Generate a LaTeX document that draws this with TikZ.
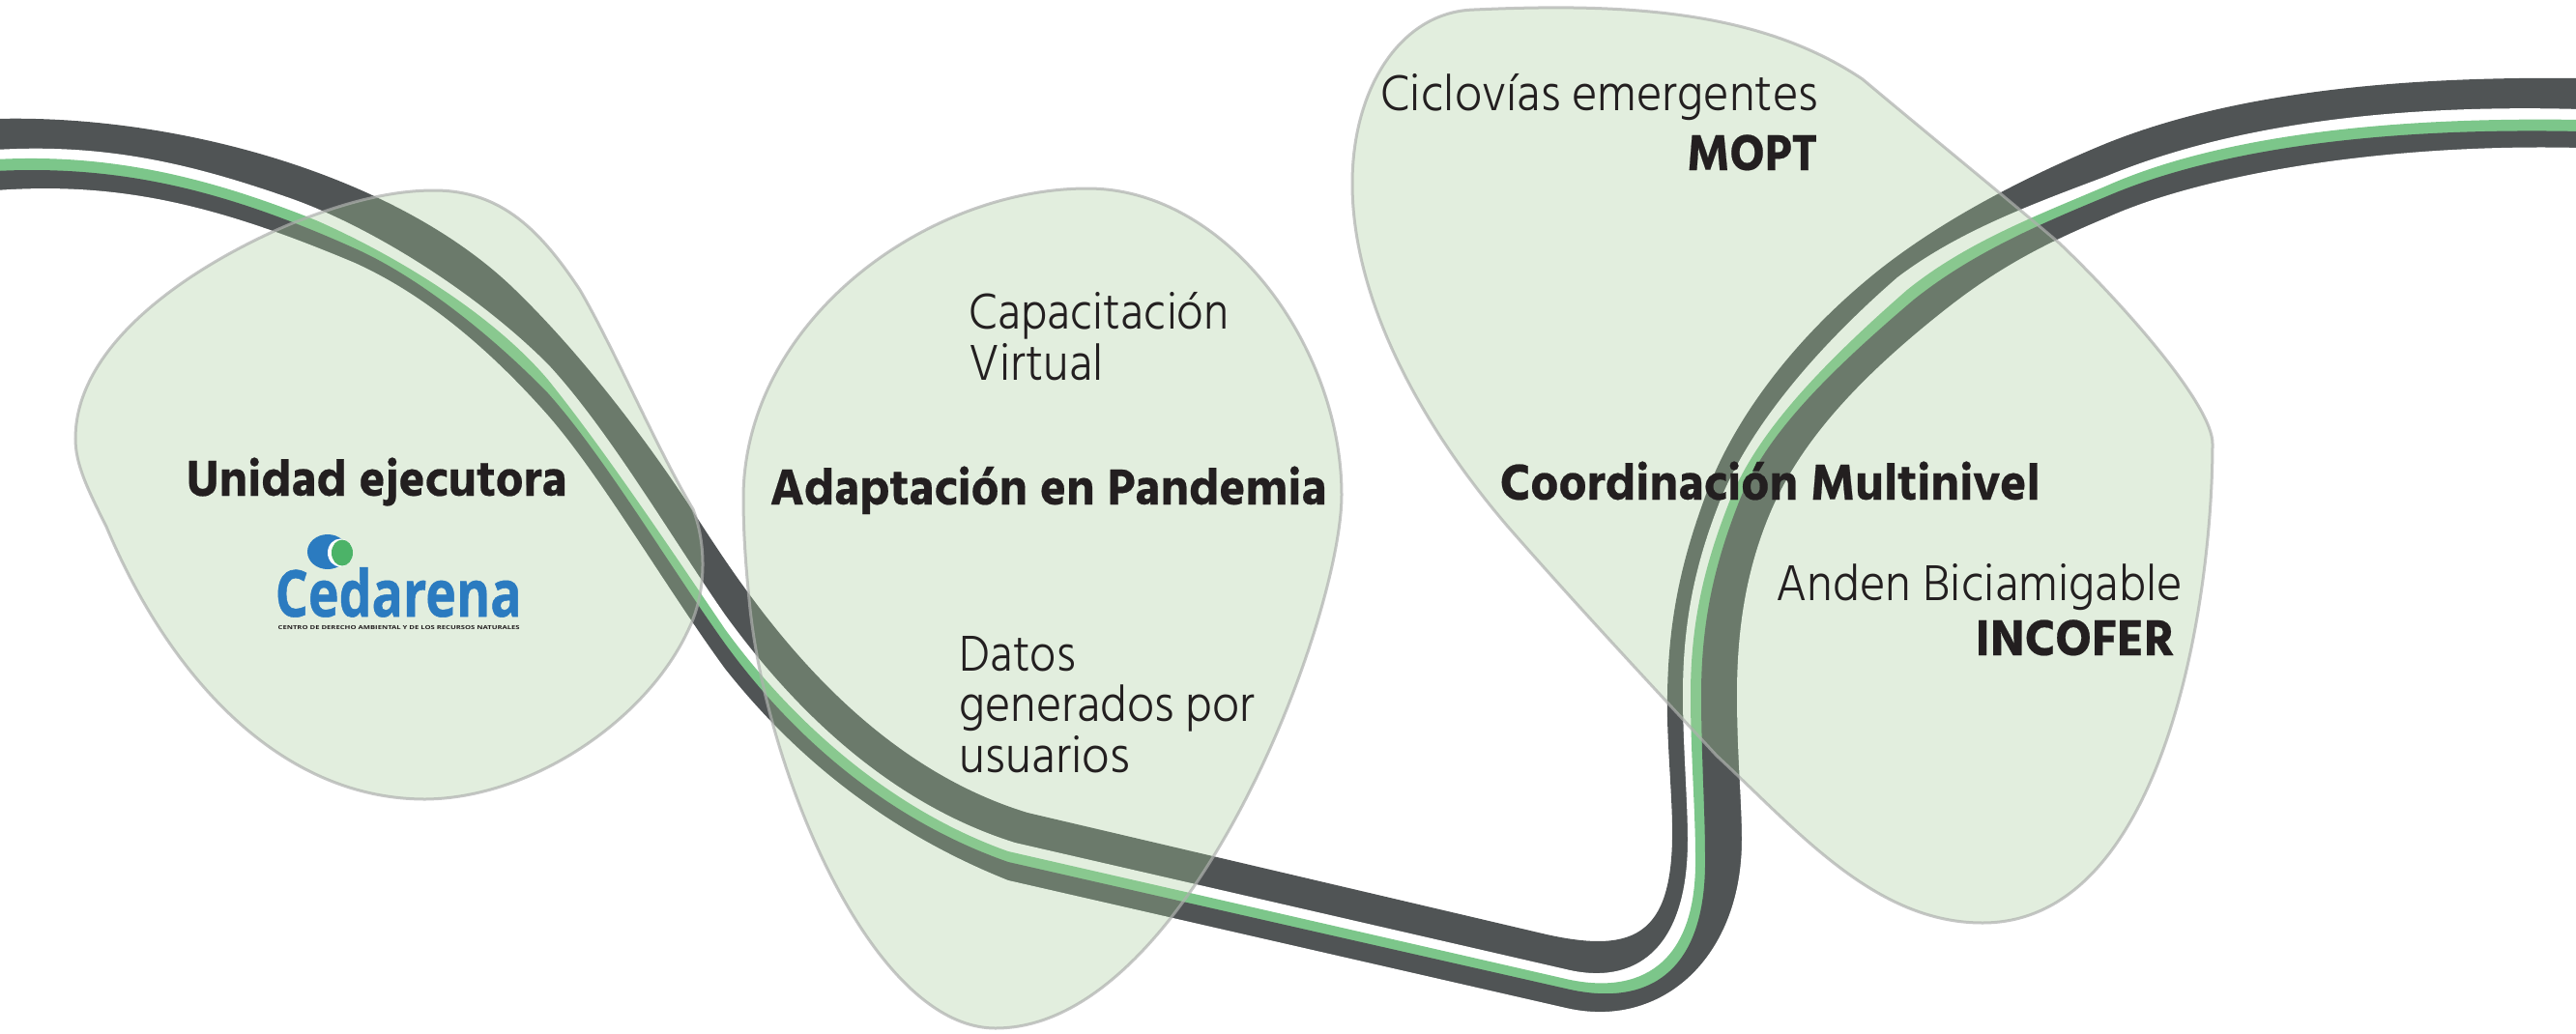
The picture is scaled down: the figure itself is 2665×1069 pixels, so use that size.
\documentclass[tikz,border=0pt]{standalone}
\usepackage{fontspec}
\setmainfont{Hind Madurai Light}
\newfontfamily\boldf[FakeBold=.4]{Hind Madurai Bold}
\newfontfamily\subf{Open Sans Bold}
\newfontfamily\logof[FakeBold=.8]{Open Sans Bold}
\definecolor{rib}{HTML}{505455}
\definecolor{ribg}{HTML}{7CC68A}
\definecolor{blobf}{RGB}{165,205,155}
\definecolor{blobl}{HTML}{AEB0AE}
\definecolor{ink}{HTML}{231F20}
\definecolor{cedblue}{HTML}{2B7BC0}
\definecolor{cedgreen}{HTML}{4CB368}
\newcommand{\fitw}[2]{\resizebox{#1\dimexpr0.01cm\relax}{\height}{#2}}
\tikzset{
 blob/.style={fill=blobf,fill opacity=.32,draw=blobl,draw opacity=.7,line width=.03cm},
 thin text/.style={inner sep=0pt,text=ink,font=\fontsize{15.2}{16}\selectfont},
 bold text/.style={inner sep=0pt,text=ink,font=\boldf\fontsize{15.2}{16}\selectfont},
 to floor/.style={insert path={-- (2670,1100) -- (-5,1100) -- cycle}},
}
\begin{document}
\begin{tikzpicture}[x=.01cm,y=-.01cm]
\useasboundingbox (0,0) rectangle (2665,1069);
\clip (0,0) rectangle (2665,1069);
\fill[white] (0,0) rectangle (2665,1069);
% ribbon: each fill covers everything below its edge
\fill[rib] (-5,123) .. controls (180,118) and (410,180) .. (533,300) .. controls (600,365) and (665,450) .. (713,523) .. controls (770,612) and (880,785) .. (1063,841) -- (1600,967) .. controls (1695,988) and (1732,965) .. (1730,852) .. controls (1729,810) and (1724,760) .. (1725,719) .. controls (1726,640) and (1740,580) .. (1763,517) .. controls (1788,445) and (1848,355) .. (1947,277) .. controls (2010,228) and (2090,185) .. (2180,148) .. controls (2280,108) and (2430,78) .. (2670,81) [to floor];
\fill[white] (-5,155) .. controls (110,148) and (200,170) .. (300,205) .. controls (380,233) and (490,300) .. (567,377) .. controls (630,445) and (695,557) .. (750,636) .. controls (800,705) and (900,825) .. (1050,872) -- (1620,1003) .. controls (1690,1020) and (1746,985) .. (1746,869) .. controls (1746,830) and (1741,770) .. (1741,719) .. controls (1741,640) and (1755,580) .. (1780,517) .. controls (1805,455) and (1862,375) .. (1963,287) .. controls (2025,240) and (2100,212) .. (2180,182) .. controls (2270,145) and (2420,106) .. (2670,113) [to floor];
\fill[ribg] (-5,165) .. controls (120,158) and (225,187) .. (327,228) .. controls (400,260) and (505,320) .. (567,393) .. controls (625,465) and (695,570) .. (750,651) .. controls (800,720) and (900,830) .. (1043,881) -- (1620,1013) .. controls (1695,1030) and (1756,1000) .. (1754,886) .. controls (1754,840) and (1749,780) .. (1749,719) .. controls (1749,640) and (1765,580) .. (1790,517) .. controls (1815,455) and (1870,390) .. (1973,300) .. controls (2035,250) and (2110,222) .. (2180,192) .. controls (2275,150) and (2430,120) .. (2670,124) [to floor];
\fill[rib] (-5,177) .. controls (130,170) and (240,200) .. (367,257) .. controls (430,285) and (507,345) .. (567,407) .. controls (625,472) and (690,582) .. (750,666) .. controls (800,735) and (895,840) .. (1043,892) -- (1620,1023) .. controls (1700,1042) and (1766,1012) .. (1764,886) .. controls (1764,840) and (1760,780) .. (1760,719) .. controls (1760,640) and (1775,580) .. (1800,517) .. controls (1825,455) and (1880,395) .. (1980,310) .. controls (2040,262) and (2110,232) .. (2180,203) .. controls (2280,160) and (2440,131) .. (2670,136) [to floor];
\fill[white] (-5,197) .. controls (120,188) and (220,210) .. (367,272) .. controls (440,305) and (507,362) .. (567,430) .. controls (622,493) and (690,610) .. (750,692) .. controls (800,755) and (890,850) .. (1043,911) -- (1620,1043) .. controls (1720,1066) and (1802,990) .. (1802,869) .. controls (1802,830) and (1797,780) .. (1797,719) .. controls (1797,640) and (1810,580) .. (1833,527) .. controls (1858,470) and (1905,405) .. (2013,320) .. controls (2070,275) and (2120,250) .. (2180,225) .. controls (2280,180) and (2470,148) .. (2670,153) [to floor];
% blobs
\draw[blob] (449,197) .. controls (520,197) and (560,240) .. (600,300) .. controls (635,360) and (680,465) .. (717,527) .. controls (730,560) and (732,610) .. (713,650) .. controls (670,745) and (550,826) .. (440,827) .. controls (290,827) and (175,700) .. (110,545) .. controls (90,505) and (78,480) .. (78,454) .. controls (78,350) and (210,270) .. (300,232) .. controls (350,212) and (400,197) .. (449,197) -- cycle;
\draw[blob] (1125,195) .. controls (1270,195) and (1388,360) .. (1388,512) .. controls (1388,640) and (1230,1064) .. (1030,1064) .. controls (900,1064) and (790,790) .. (775,620) .. controls (770,570) and (769,540) .. (769,512) .. controls (772,330) and (960,195) .. (1125,195) -- cycle;
\draw[blob] (1525,10) .. controls (1680,3) and (1820,10) .. (1927,82) .. controls (1990,135) and (2070,200) .. (2131,252) .. controls (2200,318) and (2289,420) .. (2289,459) .. controls (2289,620) and (2240,955) .. (2051,955) .. controls (1940,955) and (1860,860) .. (1776,782) .. controls (1700,700) and (1630,625) .. (1560,545) .. controls (1470,440) and (1399,310) .. (1399,190) .. controls (1399,90) and (1450,12) .. (1525,10) -- cycle;
% texts
\node[bold text,anchor=base west] (unidad) at (192,513) {\fitw{394}{Unidad ejecutora}};
\node[bold text,anchor=base west] (adapt) at (796,522) {\fitw{576}{Adaptación en Pandemia}};
\node[bold text,anchor=base west] (coord) at (1551,517) {\fitw{559}{Coordinación Multinivel}};
\node[thin text,anchor=base west] (cap) at (1002,340) {\fitw{269}{Capacitación}};
\node[thin text,anchor=base west] (virt) at (1002,393) {\fitw{139}{Virtual}};
\node[thin text,anchor=base west] (datos) at (992,694) {\fitw{120}{Datos}};
\node[thin text,anchor=base west] (gen) at (992,746) {\fitw{306}{generados por}};
\node[thin text,anchor=base west] (usu) at (992,799) {\fitw{176}{usuarios}};
\node[thin text,anchor=base west] (cicl) at (1428,114) {\fitw{452}{Ciclovías emergentes}};
\node[bold text,anchor=base east] (mopt) at (1881,176) {\fitw{135}{MOPT}};
\node[thin text,anchor=base west] (anden) at (1837,621) {\fitw{420}{Anden Biciamigable}};
\node[bold text,anchor=base east] (incofer) at (2250,678) {\fitw{206}{INCOFER}};
% logo
\fill[cedblue] (339,571) ellipse [x radius=21,y radius=18];
\fill[white] (352,572) ellipse [x radius=13,y radius=14.5];
\fill[cedgreen] (354,572) ellipse [x radius=11,y radius=13.5];
\node[inner sep=0pt,anchor=base west,text=cedblue,font=\logof\fontsize{19}{20}\selectfont] (ced) at (284,638) {\fitw{255}{Cedarena}};
\node[inner sep=0pt,anchor=base west,text=ink,font=\subf\fontsize{1.6}{2}\selectfont] (cedsub) at (287,651) {\fitw{250}{CENTRO DE DERECHO AMBIENTAL Y DE LOS RECURSOS NATURALES}};
\end{tikzpicture}
\end{document}
